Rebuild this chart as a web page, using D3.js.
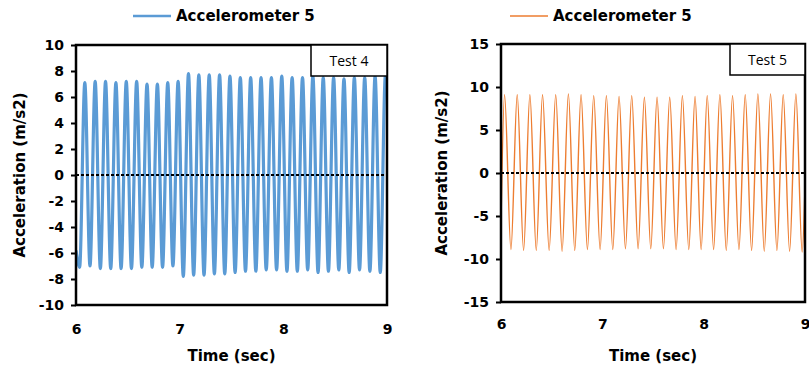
<!DOCTYPE html>
<html>
<head>
<meta charset="utf-8">
<script src="https://cdn.jsdelivr.net/npm/d3@7"></script>
<style>
  body { margin: 0; background: #fff; }
  text { font-family: "DejaVu Sans", sans-serif; }
</style>
</head>
<body>
<div id="chart"></div>
<script>

// Test 4 - extrema of accelerometer 5, plus the two edge points
var leftTimes = [6.0,
  6.035, 6.085, 6.135, 6.185, 6.235, 6.285, 6.335, 6.385, 6.435, 6.485,
  6.535, 6.585, 6.635, 6.685, 6.735, 6.785, 6.835, 6.885, 6.935, 6.985,
  7.035, 7.085, 7.135, 7.185, 7.235, 7.285, 7.335, 7.385, 7.435, 7.485,
  7.535, 7.585, 7.635, 7.685, 7.735, 7.785, 7.835, 7.885, 7.935, 7.985,
  8.035, 8.085, 8.135, 8.185, 8.235, 8.285, 8.335, 8.385, 8.435, 8.485,
  8.535, 8.585, 8.635, 8.685, 8.735, 8.785, 8.835, 8.885, 8.935, 8.985,
  9.0];
var leftValues = [-5.8,
  -7.1, 7.1, -7.0, 7.2, -7.2, 7.2, -7.2, 7.1, -7.2, 7.2,
  -7.2, 7.2, -7.1, 7.0, -7.1, 7.0, -7.1, 7.1, -7.0, 7.2,
  -7.8, 7.8, -7.7, 7.7, -7.7, 7.7, -7.6, 7.7, -7.6, 7.6,
  -7.5, 7.5, -7.4, 7.5, -7.4, 7.5, -7.3, 7.5, -7.3, 7.6,
  -7.4, 7.5, -7.4, 7.5, -7.3, 7.6, -7.5, 7.5, -7.4, 7.5,
  -7.3, 7.4, -7.5, 7.5, -7.3, 7.5, -7.4, 7.6, -7.5, 7.7,
  6.8];

// Test 5
var rightTimes = [6.0,
  6.035, 6.098, 6.160, 6.223, 6.285, 6.348, 6.410, 6.475, 6.540, 6.603,
  6.665, 6.728, 6.790, 6.853, 6.915, 6.978, 7.040, 7.103, 7.165, 7.228,
  7.290, 7.353, 7.415, 7.478, 7.540, 7.603, 7.665, 7.728, 7.790, 7.853,
  7.915, 7.975, 8.035, 8.098, 8.160, 8.223, 8.285, 8.348, 8.410, 8.473,
  8.535, 8.598, 8.660, 8.723, 8.785, 8.848, 8.910, 8.972,
  9.0];
var rightValues = [-6.0,
  9.1, -8.9, 9.1, -9.0, 9.1, -9.0, 9.1, -9.0, 9.1, -9.1,
  9.2, -9.0, 9.1, -8.9, 9.0, -8.9, 9.0, -8.9, 8.9, -8.8,
  9.0, -8.8, 8.8, -8.8, 8.8, -8.8, 8.8, -8.9, 9.0, -8.9,
  8.9, -8.9, 9.0, -8.9, 9.1, -9.0, 9.0, -8.9, 9.1, -9.0,
  9.2, -9.1, 9.2, -9.0, 9.1, -9.1, 9.2, -9.2,
  -1.5];

var xTicks = [6, 7, 8, 9];
var leftYTicks = [-10, -8, -6, -4, -2, 0, 2, 4, 6, 8, 10];
var rightYTicks = [-15, -10, -5, 0, 5, 10, 15];

var legendLabel = 'Accelerometer 5';
var panelLabels = ['Test 4', 'Test 5'];

var svg = d3.select('#chart')
  .append('svg')
  .attr('width', 809)
  .attr('height', 368);

// plain integers with an ascii hyphen, like the original
var fmt = function(d) { return String(d); };

function drawPanel(p) {
  var x = d3.scaleLinear().domain([6, 9]).range([p.x0, p.x1]);
  var y = d3.scaleLinear().domain(p.yDomain).range([p.y1, p.y0]);
  var g = svg.append('g');

  var clipId = 'clip' + p.id;
  svg.append('clipPath').attr('id', clipId)
    .append('rect')
    .attr('x', p.x0).attr('y', p.y0)
    .attr('width', p.x1 - p.x0).attr('height', p.y1 - p.y0);

  var pts = p.times.map(function(t, i) { return [t, p.values[i]]; });
  var line = d3.line()
    .x(function(d) { return x(d[0]); })
    .y(function(d) { return y(d[1]); })
    .curve(d3.curveMonotoneX);

  g.append('path')
    .datum(pts)
    .attr('clip-path', 'url(#' + clipId + ')')
    .attr('fill', 'none')
    .attr('stroke', p.color)
    .attr('stroke-width', p.lineWidth)
    .attr('d', line);

  // zero line, dashed, on top of the signal
  g.append('line')
    .attr('x1', p.x0).attr('x2', p.x1)
    .attr('y1', y(0)).attr('y2', y(0))
    .attr('stroke', '#000')
    .attr('stroke-width', 2)
    .attr('stroke-dasharray', '3,2');

  // y axis with outward ticks
  var yAxis = g.append('g')
    .attr('transform', 'translate(' + p.x0 + ',0)')
    .call(d3.axisLeft(y).tickValues(p.yTicks).tickFormat(fmt).tickSize(5).tickPadding(7));
  yAxis.select('.domain').remove();
  yAxis.selectAll('line').attr('stroke', '#000').attr('stroke-width', 2);
  yAxis.selectAll('text')
    .attr('fill', '#000')
    .style('font-size', '14px')
    .style('font-weight', 'bold');

  // x axis labels only, no tick marks
  var xAxis = g.append('g')
    .attr('transform', 'translate(0,' + p.y1 + ')')
    .call(d3.axisBottom(x).tickValues(xTicks).tickFormat(fmt).tickSize(0).tickPadding(p.xPad));
  xAxis.select('.domain').remove();
  xAxis.selectAll('text')
    .attr('fill', '#000')
    .style('font-size', '14px')
    .style('font-weight', 'bold');

  // frame
  g.append('rect')
    .attr('x', p.x0).attr('y', p.y0)
    .attr('width', p.x1 - p.x0).attr('height', p.y1 - p.y0)
    .attr('fill', 'none')
    .attr('stroke', '#000')
    .attr('stroke-width', 2.5);

  // test label box in the top right corner
  g.append('rect')
    .attr('x', p.boxX).attr('y', p.y0)
    .attr('width', p.x1 - p.boxX).attr('height', 31)
    .attr('fill', '#fff')
    .attr('stroke', '#000')
    .attr('stroke-width', 1.5);
  g.append('text')
    .attr('x', (p.boxX + p.x1) / 2)
    .attr('y', p.y0 + 21)
    .attr('text-anchor', 'middle')
    .style('font-family', '"Open Sans", sans-serif')
    .style('font-size', '14px')
    .text(p.label);

  // axis titles
  g.append('text')
    .attr('transform', 'translate(' + p.yTitleX + ',' + ((p.y0 + p.y1) / 2) + ') rotate(-90)')
    .attr('text-anchor', 'middle')
    .attr('dy', '0.35em')
    .style('font-size', '15px')
    .style('font-weight', 'bold')
    .text('Acceleration (m/s2)');
  g.append('text')
    .attr('x', (p.x0 + p.x1) / 2)
    .attr('y', p.xTitleY)
    .attr('text-anchor', 'middle')
    .style('font-size', '15px')
    .style('font-weight', 'bold')
    .text('Time (sec)');

  // legend
  g.append('line')
    .attr('x1', p.legX).attr('x2', p.legX + 38)
    .attr('y1', 16).attr('y2', 16)
    .attr('stroke', p.color)
    .attr('stroke-width', p.legWidth);
  g.append('text')
    .attr('x', p.legX + 43)
    .attr('y', 21)
    .style('font-size', '15px')
    .style('font-weight', 'bold')
    .text(legendLabel);
}

drawPanel({
  id: 'L', x0: 76, x1: 387, y0: 45, y1: 305,
  yDomain: [-10, 10], yTicks: leftYTicks,
  times: leftTimes, values: leftValues,
  color: '#5B9BD5', lineWidth: 3.2, legWidth: 2.5,
  boxX: 311, label: panelLabels[0],
  yTitleX: 20, xTitleY: 361, xPad: 19,
  legX: 133
});

drawPanel({
  id: 'R', x0: 501, x1: 805, y0: 44, y1: 302,
  yDomain: [-15, 15], yTicks: rightYTicks,
  times: rightTimes, values: rightValues,
  color: '#ED7D31', lineWidth: 1.4, legWidth: 1.5,
  boxX: 730, label: panelLabels[1],
  yTitleX: 442, xTitleY: 361, xPad: 17,
  legX: 510
});

</script>
</body>
</html>
